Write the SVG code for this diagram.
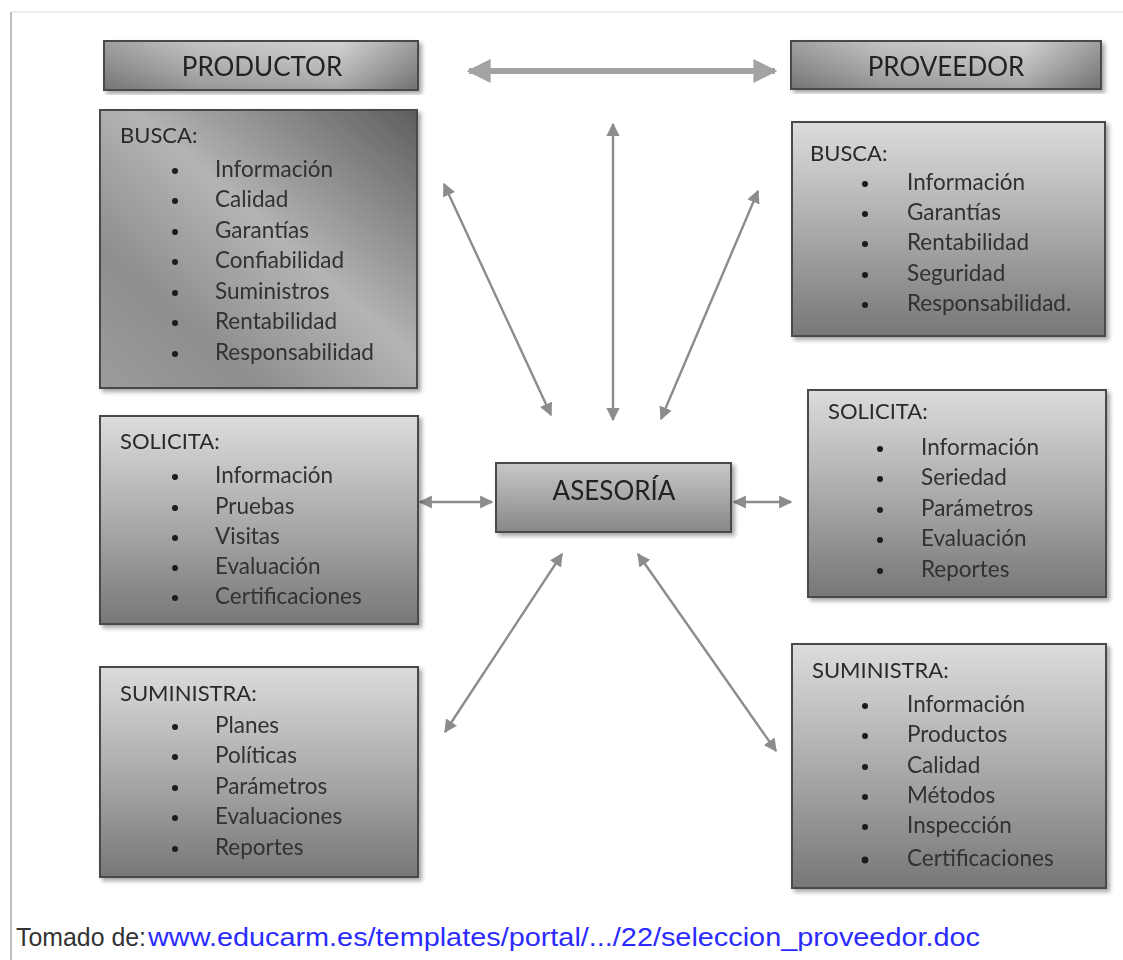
<svg xmlns="http://www.w3.org/2000/svg" width="1123" height="960" viewBox="0 0 1123 960">
  <style>
    .box { stroke: #4a4a4a; stroke-width: 2; }
    .head { font-family: Lato, "Open Sans", sans-serif; font-size: 26px; fill: #222; text-anchor: middle; }
    .title { font-family: Lato, "Open Sans", sans-serif; font-size: 22px; fill: #2a2a2a; }
    .item { font-family: Lato, "Open Sans", sans-serif; font-size: 22.5px; fill: #303030; }
    .dot { fill: #1a1a1a; }
    .thin { stroke: #8c8c8c; stroke-width: 2.4; fill: none; marker-start: url(#ah); marker-end: url(#ah); }
  </style>
  <defs>
    <linearGradient id="gHead" x1="0" y1="0" x2="1" y2="0">
      <stop offset="0" stop-color="#8e8e8e"/>
      <stop offset="0.3" stop-color="#b8b8b8"/>
      <stop offset="0.75" stop-color="#c9c9c9"/>
      <stop offset="1" stop-color="#8a8a8a"/>
    </linearGradient>
    <linearGradient id="gHeadV" x1="0" y1="0" x2="0" y2="1">
      <stop offset="0" stop-color="#ffffff" stop-opacity="0.15"/>
      <stop offset="1" stop-color="#000000" stop-opacity="0.18"/>
    </linearGradient>
    <linearGradient id="gDiag" x1="1" y1="0" x2="0" y2="1">
      <stop offset="0" stop-color="#5e5e5e"/>
      <stop offset="0.45" stop-color="#b4b4b4"/>
      <stop offset="0.75" stop-color="#8e8e8e"/>
      <stop offset="1" stop-color="#9c9c9c"/>
    </linearGradient>
    <linearGradient id="gVert" x1="0" y1="0" x2="0" y2="1">
      <stop offset="0" stop-color="#dcdcdc"/>
      <stop offset="0.5" stop-color="#ababab"/>
      <stop offset="1" stop-color="#777777"/>
    </linearGradient>
    <linearGradient id="gAses" x1="0" y1="0" x2="0" y2="1">
      <stop offset="0" stop-color="#c8c8c8"/>
      <stop offset="1" stop-color="#878787"/>
    </linearGradient>
    <filter id="sh" x="-5%" y="-5%" width="115%" height="115%">
      <feDropShadow dx="3" dy="3" stdDeviation="2" flood-color="#000" flood-opacity="0.35"/>
    </filter>
    <marker id="ah" viewBox="0 0 10 10" refX="9" refY="5" markerWidth="5.5" markerHeight="5.5" orient="auto-start-reverse" markerUnits="strokeWidth">
      <path d="M0,0 L10,5 L0,10 Z" fill="#8c8c8c"/>
    </marker>
    <marker id="ahBig" viewBox="0 0 10 10" refX="9" refY="5" markerWidth="4" markerHeight="4" orient="auto-start-reverse" markerUnits="strokeWidth">
      <path d="M0,0 L10,5 L0,10 Z" fill="#a3a3a3"/>
    </marker>
  </defs>

  <rect width="1123" height="960" fill="#ffffff"/>
  <!-- page frame -->
  <line x1="11" y1="12" x2="1123" y2="12" stroke="#e6e6e6" stroke-width="1.5"/>
  <line x1="11" y1="12" x2="11" y2="960" stroke="#bdbdbd" stroke-width="2"/>

  <!-- connectors -->
  <g id="connectors">
    <line x1="469" y1="71" x2="775" y2="71" stroke="#a3a3a3" stroke-width="6" marker-start="url(#ahBig)" marker-end="url(#ahBig)"/>
    <line class="thin" x1="613" y1="124" x2="613" y2="420"/>
    <line class="thin" x1="444" y1="184" x2="551" y2="415"/>
    <line class="thin" x1="758" y1="191" x2="661" y2="419"/>
    <line class="thin" x1="420" y1="502" x2="492" y2="502"/>
    <line class="thin" x1="734" y1="502" x2="791" y2="502"/>
    <line class="thin" x1="562" y1="554" x2="445" y2="732"/>
    <line class="thin" x1="638" y1="554" x2="776" y2="751"/>
  </g>

  <g id="productor" filter="url(#sh)">
    <rect class="box" x="104" y="41" width="314" height="49" fill="url(#gHead)"/>
    <rect x="105" y="42" width="312" height="47" fill="url(#gHeadV)"/>
    <text class="head" x="262" y="76">PRODUCTOR</text>
  </g>

  <g id="proveedor" filter="url(#sh)">
    <rect class="box" x="791" y="41" width="310" height="48" fill="url(#gHead)"/>
    <rect x="792" y="42" width="308" height="46" fill="url(#gHeadV)"/>
    <text class="head" x="946" y="76">PROVEEDOR</text>
  </g>

  <g id="productor-busca" filter="url(#sh)">
    <rect class="box" x="100" y="110" width="317" height="278" fill="url(#gDiag)"/>
    <text class="title" x="120" y="143">BUSCA:</text>
    <g class="dot">
      <circle cx="175" cy="171" r="3"/><circle cx="175" cy="201" r="3"/><circle cx="175" cy="232" r="3"/>
      <circle cx="175" cy="262" r="3"/><circle cx="175" cy="293" r="3"/><circle cx="175" cy="323" r="3"/>
      <circle cx="175" cy="354" r="3"/>
    </g>
    <text class="item" x="215" y="177">Información</text>
    <text class="item" x="215" y="207">Calidad</text>
    <text class="item" x="215" y="238">Garantías</text>
    <text class="item" x="215" y="268">Confiabilidad</text>
    <text class="item" x="215" y="299">Suministros</text>
    <text class="item" x="215" y="329">Rentabilidad</text>
    <text class="item" x="215" y="360">Responsabilidad</text>
  </g>

  <g id="proveedor-busca" filter="url(#sh)">
    <rect class="box" x="792" y="122" width="313" height="214" fill="url(#gVert)"/>
    <text class="title" x="810" y="161">BUSCA:</text>
    <g class="dot">
      <circle cx="865" cy="184" r="3"/><circle cx="865" cy="214" r="3"/><circle cx="865" cy="244" r="3"/>
      <circle cx="865" cy="275" r="3"/><circle cx="865" cy="305" r="3"/>
    </g>
    <text class="item" x="907" y="190">Información</text>
    <text class="item" x="907" y="220">Garantías</text>
    <text class="item" x="907" y="250">Rentabilidad</text>
    <text class="item" x="907" y="281">Seguridad</text>
    <text class="item" x="907" y="311">Responsabilidad.</text>
  </g>

  <g id="productor-solicita" filter="url(#sh)">
    <rect class="box" x="100" y="416" width="318" height="208" fill="url(#gVert)"/>
    <text class="title" x="120" y="449">SOLICITA:</text>
    <g class="dot">
      <circle cx="175" cy="477" r="3"/><circle cx="175" cy="508" r="3"/><circle cx="175" cy="538" r="3"/>
      <circle cx="175" cy="568" r="3"/><circle cx="175" cy="598" r="3"/>
    </g>
    <text class="item" x="215" y="483">Información</text>
    <text class="item" x="215" y="514">Pruebas</text>
    <text class="item" x="215" y="544">Visitas</text>
    <text class="item" x="215" y="574">Evaluación</text>
    <text class="item" x="215" y="604">Certificaciones</text>
  </g>

  <g id="asesoria" filter="url(#sh)">
    <rect class="box" x="496" y="463" width="235" height="69" fill="url(#gAses)"/>
    <text class="head" x="614" y="500">ASESORÍA</text>
  </g>

  <g id="proveedor-solicita" filter="url(#sh)">
    <rect class="box" x="808" y="390" width="298" height="207" fill="url(#gVert)"/>
    <text class="title" x="828" y="419">SOLICITA:</text>
    <g class="dot">
      <circle cx="880" cy="449" r="3"/><circle cx="880" cy="479" r="3"/><circle cx="880" cy="510" r="3"/>
      <circle cx="880" cy="540" r="3"/><circle cx="880" cy="571" r="3"/>
    </g>
    <text class="item" x="921" y="455">Información</text>
    <text class="item" x="921" y="485">Seriedad</text>
    <text class="item" x="921" y="516">Parámetros</text>
    <text class="item" x="921" y="546">Evaluación</text>
    <text class="item" x="921" y="577">Reportes</text>
  </g>

  <g id="productor-suministra" filter="url(#sh)">
    <rect class="box" x="100" y="667" width="318" height="210" fill="url(#gVert)"/>
    <text class="title" x="120" y="701">SUMINISTRA:</text>
    <g class="dot">
      <circle cx="175" cy="727" r="3"/><circle cx="175" cy="757" r="3"/><circle cx="175" cy="788" r="3"/>
      <circle cx="175" cy="818" r="3"/><circle cx="175" cy="849" r="3"/>
    </g>
    <text class="item" x="215" y="733">Planes</text>
    <text class="item" x="215" y="763">Políticas</text>
    <text class="item" x="215" y="794">Parámetros</text>
    <text class="item" x="215" y="824">Evaluaciones</text>
    <text class="item" x="215" y="855">Reportes</text>
  </g>

  <g id="proveedor-suministra" filter="url(#sh)">
    <rect class="box" x="792" y="644" width="314" height="244" fill="url(#gVert)"/>
    <text class="title" x="812" y="678">SUMINISTRA:</text>
    <g class="dot">
      <circle cx="865" cy="706" r="3"/><circle cx="865" cy="736" r="3"/><circle cx="865" cy="767" r="3"/>
      <circle cx="865" cy="797" r="3"/><circle cx="865" cy="827" r="3"/><circle cx="865" cy="860" r="3.4"/>
    </g>
    <text class="item" x="907" y="712">Información</text>
    <text class="item" x="907" y="742">Productos</text>
    <text class="item" x="907" y="773">Calidad</text>
    <text class="item" x="907" y="803">Métodos</text>
    <text class="item" x="907" y="833">Inspección</text>
    <text class="item" x="907" y="866">Certificaciones</text>
  </g>

  <!-- source line -->
  <g id="source">
    <text x="16" y="946" font-family="'Liberation Sans', Arial, sans-serif" font-size="25" fill="#333" textLength="130" lengthAdjust="spacingAndGlyphs">Tomado de:</text>
    <text x="148" y="946" font-family="'Liberation Sans', Arial, sans-serif" font-size="25" fill="#2b2bff" textLength="832" lengthAdjust="spacingAndGlyphs">www.educarm.es/templates/portal/.../22/seleccion_proveedor.doc</text>
  </g>
</svg>
